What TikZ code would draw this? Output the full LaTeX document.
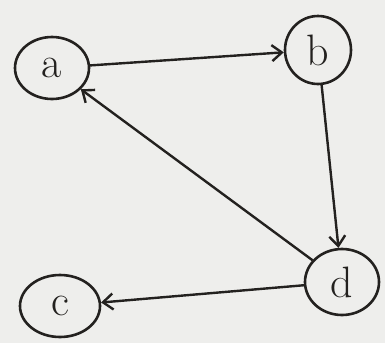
\documentclass[tikz,border=0pt]{standalone}
\usetikzlibrary{arrows.meta,shapes.geometric}
\definecolor{paper}{RGB}{238,238,236}
\definecolor{ink}{RGB}{35,33,31}
\begin{document}
\begin{tikzpicture}[x=1pt,y=-1pt,
  vtx/.style={draw=ink,line width=2.6pt,ellipse,minimum width=#1,minimum height=62pt,inner sep=0pt,font=\fontsize{44}{44}\selectfont,text=ink},
  vtx/.default=70pt,
  edge/.style={draw=ink,line width=2.4pt,-{Straight Barb[length=10pt,width=16pt,line width=2.4pt]}}]
\fill[paper] (0,0) rectangle (385,343);
\useasboundingbox (0,0) rectangle (385,343);
\node[vtx=74pt] (a) at (52,68) {a};
\node[vtx=66pt,minimum height=68pt] (b) at (318,50) {b};
\node[vtx=74pt,minimum height=66pt] (d) at (342,282) {d};
\node[vtx=80pt,minimum height=62pt] (c) at (60,306) {c};
\draw[edge] (a) -- (b);
\draw[edge] (b) -- (d);
\draw[edge] (d) -- (a);
\draw[edge] (d) -- (c);
\end{tikzpicture}
\end{document}
